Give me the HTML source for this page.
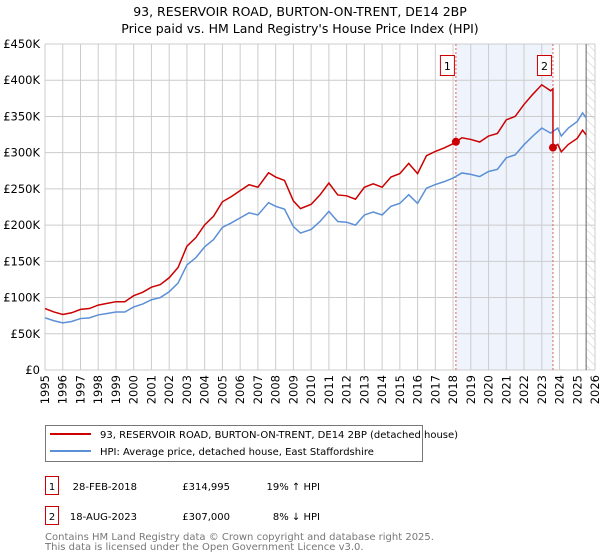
<!DOCTYPE html>
<html><head><meta charset="utf-8"><style>
body{margin:0;background:#fff;width:600px;height:560px;overflow:hidden;font-family:"DejaVu Sans","Liberation Sans",sans-serif}
svg{display:block}
</style></head><body>
<svg id="chart" width="600" height="560" xmlns="http://www.w3.org/2000/svg" font-family="DejaVu Sans, Liberation Sans, sans-serif">
<defs><pattern id="hatch" width="6" height="6" patternUnits="userSpaceOnUse" patternTransform="rotate(-45)"><line x1="0" y1="0" x2="0" y2="6" stroke="#ccc" stroke-width="1"/></pattern></defs>
<text x="300" y="16" text-anchor="middle" font-size="12.5">93, RESERVOIR ROAD, BURTON-ON-TRENT, DE14 2BP</text>
<text x="300" y="33" text-anchor="middle" font-size="12.5">Price paid vs. HM Land Registry's House Price Index (HPI)</text>
<g id="plot"></g>
<g>
<rect x="45.5" y="425.5" width="377" height="36" fill="#fff" stroke="#777"/>
<line x1="50" y1="434" x2="91" y2="434" stroke="#cc0000" stroke-width="2"/>
<text x="100" y="438" font-size="10">93, RESERVOIR ROAD, BURTON-ON-TRENT, DE14 2BP (detached house)</text>
<line x1="50" y1="451" x2="91" y2="451" stroke="#5b8fd6" stroke-width="2"/>
<text x="100" y="455" font-size="10">HPI: Average price, detached house, East Staffordshire</text>
</g>
<g font-size="10">
<rect x="45.5" y="476.5" width="13" height="18" fill="#fff" stroke="#cc0000"/>
<text x="52" y="490" text-anchor="middle">1</text>
<text x="137" y="490" text-anchor="end">28-FEB-2018</text>
<text x="230" y="490" text-anchor="end">£314,995</text>
<text x="320" y="490" text-anchor="end">19% ↑ HPI</text>
<rect x="45.5" y="506.5" width="13" height="18" fill="#fff" stroke="#cc0000"/>
<text x="52" y="520" text-anchor="middle">2</text>
<text x="137" y="520" text-anchor="end">18-AUG-2023</text>
<text x="230" y="520" text-anchor="end">£307,000</text>
<text x="320" y="520" text-anchor="end">8% ↓ HPI</text>
</g>
<text x="45" y="540" font-size="10" fill="#777">Contains HM Land Registry data © Crown copyright and database right 2025.</text>
<text x="45" y="550" font-size="10" fill="#777">This data is licensed under the Open Government Licence v3.0.</text>
</svg>
<script>
const hpiYears=[1995,1995.5,1996,1996.5,1997,1997.5,1998,1998.5,1999,1999.5,2000,2000.5,2001,2001.5,2002,2002.5,2003,2003.5,2004,2004.5,2005,2005.5,2006,2006.5,2007,2007.6,2008,2008.5,2009,2009.4,2010,2010.5,2011,2011.5,2012,2012.5,2013,2013.5,2014,2014.5,2015,2015.5,2016,2016.5,2017,2017.5,2018,2018.5,2019,2019.5,2020,2020.5,2021,2021.5,2022,2022.5,2023,2023.5,2023.9,2024.1,2024.5,2025,2025.3,2025.5];
const hpiValues=[72,68,65,67,71,72,76,78,80,80,87,91,97,100,108,120,145,155,170,180,197,203,210,217,214,231,226,222,198,189,194,205,219,205,204,200,214,218,214,226,230,242,230,251,256,260,265,272,270,267,274,277,293,297,311,323,334,327,334,323,334,343,355,348];
const saleYears=[2018.16,2023.63];
const saleValues=[314.995,307];
const saleLabels=["1","2"];
const yTicks=[0,50,100,150,200,250,300,350,400,450];
const yTickLabels=["£0","£50K","£100K","£150K","£200K","£250K","£300K","£350K","£400K","£450K"];
const xTicks=[1995,1996,1997,1998,1999,2000,2001,2002,2003,2004,2005,2006,2007,2008,2009,2010,2011,2012,2013,2014,2015,2016,2017,2018,2019,2020,2021,2022,2023,2024,2025,2026];

const X0=45,X1=595,Y0=370,Y1=44;
const xs=y=>X0+(y-1995)/(2026-1995)*(X1-X0);
const ys=v=>Y0-v/450*(Y0-Y1);
const NS="http://www.w3.org/2000/svg";
const g=document.getElementById('plot');
function mk(t,a,p){const e=document.createElementNS(NS,t);for(const k in a)e.setAttribute(k,a[k]);(p||g).appendChild(e);return e;}
function hpiAt(t){for(let i=0;i<hpiYears.length-1;i++){if(t<=hpiYears[i+1]){const f=(t-hpiYears[i])/(hpiYears[i+1]-hpiYears[i]);return hpiValues[i]+f*(hpiValues[i+1]-hpiValues[i]);}}return hpiValues[hpiValues.length-1];}

const shade=mk('rect',{x:xs(saleYears[0]),y:Y1,width:xs(saleYears[1])-xs(saleYears[0]),height:Y0-Y1,fill:'#eef3fc'});


const hatch=mk('rect',{x:xs(2025.5),y:Y1,width:X1-xs(2025.5),height:Y0-Y1,fill:'url(#hatch)'});


yTicks.forEach((v,i)=>{
 const l=mk('line',{x1:X0,x2:X1,y1:ys(v),y2:ys(v),stroke:'#ccc'});
 
 
 const t=mk('text',{x:X0-5,y:ys(v)+4,'text-anchor':'end','font-size':'11.5'});
 t.textContent=yTickLabels[i];
 
 
});
xTicks.forEach(y=>{
 const l=mk('line',{x1:xs(y),x2:xs(y),y1:Y1,y2:Y0,stroke:'#ccc'});
 
 
 const t=mk('text',{x:0,y:0,'text-anchor':'end','font-size':'11.5',transform:`translate(${xs(y)+4},${Y0+5}) rotate(-90)`});
 t.textContent=y;
 
 
});
const endLine=mk('line',{x1:xs(2025.5),x2:xs(2025.5),y1:Y1,y2:Y0,stroke:'#666'});


saleYears.forEach((s,i)=>{
 const l=mk('line',{x1:xs(s),x2:xs(s),y1:Y1,y2:Y0,stroke:'#e06060','stroke-dasharray':'2,2'});
 
 
});
const hp=mk('polyline',{points:hpiYears.map((y,i)=>xs(y)+','+ys(hpiValues[i])).join(' '),fill:'none',stroke:'#5b8fd6','stroke-width':1.5});


const r1=saleValues[0]/hpiAt(saleYears[0]),r2=saleValues[1]/hpiAt(saleYears[1]);
let pts=[];
hpiYears.forEach((y,i)=>{if(y<saleYears[1])pts.push([y,hpiValues[i]*r1]);});
pts.push([saleYears[1],hpiAt(saleYears[1])*r1]);
pts.push([saleYears[1],saleValues[1]]);
hpiYears.forEach((y,i)=>{if(y>saleYears[1])pts.push([y,hpiValues[i]*r2]);});
const pl=mk('polyline',{points:pts.map(p=>xs(p[0])+','+ys(p[1])).join(' '),fill:'none',stroke:'#cc0000','stroke-width':1.5});


saleYears.forEach((s,i)=>{
 const c=mk('circle',{cx:xs(s),cy:ys(saleValues[i]),r:4,fill:'#cc0000'});
 
 
 const b=mk('rect',{x:xs(s)-15.5,y:55.5,width:14,height:20,fill:'#fff',stroke:'#cc0000'});
 
 
 const t=mk('text',{x:xs(s)-8.5,y:70,'text-anchor':'middle','font-size':'11'});
 t.textContent=saleLabels[i];
 
 
});
</script>
</body></html>
